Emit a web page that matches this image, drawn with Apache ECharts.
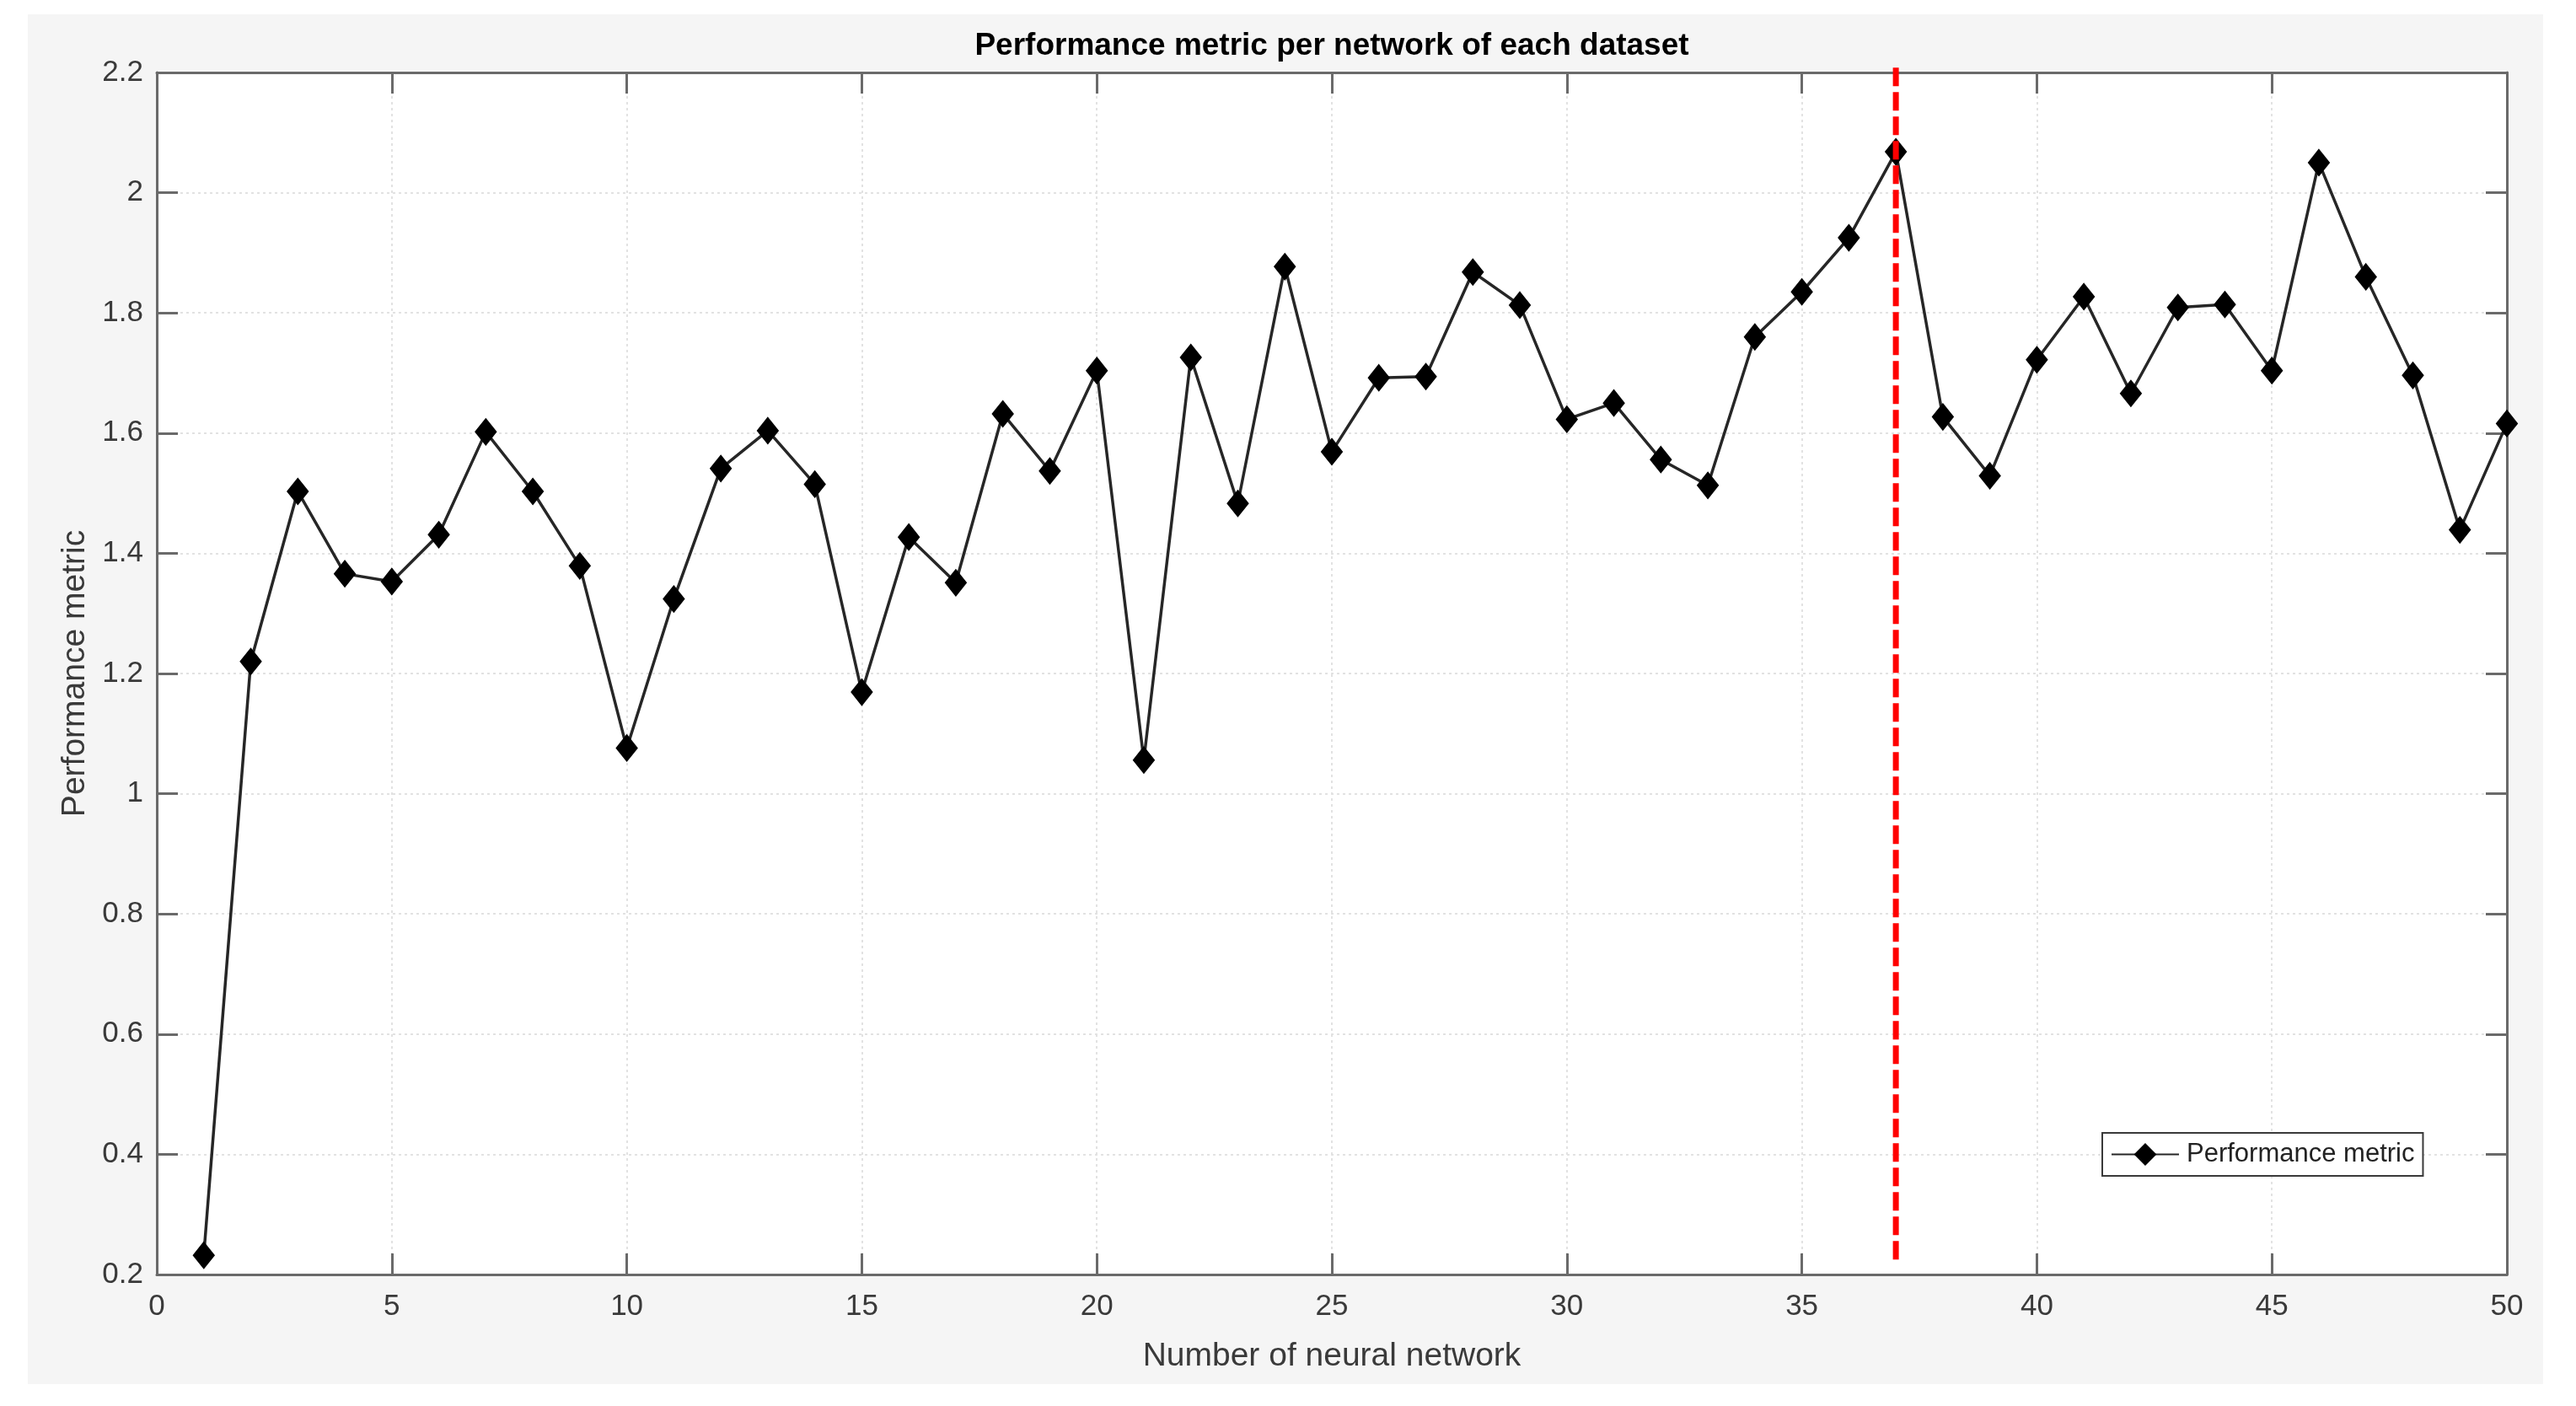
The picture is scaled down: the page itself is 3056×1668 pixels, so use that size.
<!DOCTYPE html>
<html>
<head>
<meta charset="utf-8">
<script src="https://cdn.jsdelivr.net/npm/echarts@6/dist/echarts.min.js"></script>
<style>
html,body{margin:0;padding:0;background:#ffffff;}
#chart{width:3056px;height:1668px;}
</style>
</head>
<body>
<div id="chart"></div>
<script>
// ---- data ----
const networkIds = [1,2,3,4,5,6,7,8,9,10,11,12,13,14,15,16,17,18,19,20,21,22,23,24,25,26,27,28,29,30,31,32,33,34,35,36,37,38,39,40,41,42,43,44,45,46,47,48,49,50];
const performanceValues = [0.232,1.220,1.503,1.366,1.353,1.431,1.602,1.503,1.379,1.076,1.324,1.541,1.604,1.515,1.169,1.427,1.351,1.632,1.537,1.704,1.056,1.726,1.483,1.877,1.569,1.692,1.694,1.868,1.813,1.623,1.650,1.556,1.513,1.760,1.835,1.925,2.068,1.627,1.529,1.722,1.827,1.666,1.809,1.814,1.704,2.050,1.860,1.696,1.439,1.616];
const selectedNetwork = 37;
const selectedLineRange = [2.208, 0.217];
const xTicks = [0,5,10,15,20,25,30,35,40,45,50];
const yTicks = [0.2,0.4,0.6,0.8,1,1.2,1.4,1.6,1.8,2,2.2];
const seriesName = 'Performance metric';
const chartTitle = 'Performance metric per network of each dataset';
const xAxisTitle = 'Number of neural network';
const yAxisTitle = 'Performance metric';

const seriesData = networkIds.map((id, i) => [id, performanceValues[i]]);
const selectedLineData = selectedLineRange.map(v => [selectedNetwork, v]);

const FONT = '"Liberation Sans", Arial, Helvetica, sans-serif';
const AXIS_COLOR = '#6a6a6a';
const TEXT_COLOR = '#3a3a3a';
const GRID_COLOR = '#e2e2e2';

const chart = echarts.init(document.getElementById('chart'), null, {renderer: 'canvas'});

const baseAxisLine = {show: true, onZero: false, lineStyle: {color: AXIS_COLOR, width: 3}};
const baseTick = {show: true, inside: true, length: 25, lineStyle: {color: AXIS_COLOR, width: 3}};

const option = {
  backgroundColor: '#ffffff',
  animation: false,
  graphic: [{
    type: 'rect', z: -10, silent: true,
    shape: {x: 33, y: 17, width: 2984, height: 1625},
    style: {fill: '#f5f5f5'}
  }, {
    type: 'rect', z: -9, silent: true,
    shape: {x: 186, y: 86, width: 2788, height: 1426},
    style: {fill: '#ffffff'}
  }],
  title: {
    text: chartTitle,
    left: 1580,
    top: 36,
    padding: 0,
    textAlign: 'center',
    textStyle: {fontFamily: FONT, fontSize: 37, fontWeight: 'bold', color: '#000000'}
  },
  grid: {left: 186, top: 86, width: 2788, height: 1426, containLabel: false},
  legend: {
    data: [seriesName],
    left: 2494,
    top: 1344,
    orient: 'horizontal',
    padding: [10, 10, 10, 10],
    itemWidth: 80,
    itemHeight: 30,
    backgroundColor: '#ffffff',
    borderColor: '#3a3a3a',
    borderWidth: 2,
    borderRadius: 0,
    textStyle: {fontFamily: FONT, fontSize: 31, color: '#222222', padding: [0, 0, 0, 4]}
  },
  xAxis: [{
    type: 'value', position: 'bottom',
    min: xTicks[0], max: xTicks[xTicks.length - 1], interval: 5,
    axisLine: baseAxisLine,
    axisTick: baseTick,
    axisLabel: {color: TEXT_COLOR, fontFamily: FONT, fontSize: 35, margin: 21, showMinLabel: true, showMaxLabel: true},
    splitLine: {show: true, lineStyle: {color: GRID_COLOR, width: 2, type: [3, 4]}},
    name: xAxisTitle,
    nameLocation: 'middle',
    nameGap: 78,
    nameTextStyle: {fontFamily: FONT, fontSize: 39, color: TEXT_COLOR}
  }, {
    type: 'value', position: 'top',
    min: xTicks[0], max: xTicks[xTicks.length - 1], interval: 5,
    axisLine: baseAxisLine,
    axisTick: baseTick,
    axisLabel: {show: false},
    splitLine: {show: false}
  }],
  yAxis: [{
    type: 'value', position: 'left',
    min: yTicks[0], max: yTicks[yTicks.length - 1], interval: 0.2,
    axisLine: baseAxisLine,
    axisTick: baseTick,
    axisLabel: {color: TEXT_COLOR, fontFamily: FONT, fontSize: 35, margin: 16,
      formatter: v => String(Math.round(v * 10) / 10)},
    splitLine: {show: true, lineStyle: {color: GRID_COLOR, width: 2, type: [3, 4]}},
    name: yAxisTitle,
    nameLocation: 'middle',
    nameGap: 77,
    nameTextStyle: {fontFamily: FONT, fontSize: 39, color: TEXT_COLOR}
  }, {
    type: 'value', position: 'right',
    min: yTicks[0], max: yTicks[yTicks.length - 1], interval: 0.2,
    axisLine: baseAxisLine,
    axisTick: baseTick,
    axisLabel: {show: false},
    splitLine: {show: false}
  }],
  series: [{
    name: seriesName,
    type: 'line',
    xAxisIndex: 0,
    yAxisIndex: 0,
    data: seriesData,
    symbol: 'diamond',
    symbolSize: [24, 30],
    showAllSymbol: true,
    clip: false,
    lineStyle: {color: '#262626', width: 3.5},
    itemStyle: {color: '#000000', borderColor: '#000000', borderWidth: 2},
    z: 5
  }, {
    name: 'Selected network',
    type: 'line',
    xAxisIndex: 0,
    yAxisIndex: 0,
    data: selectedLineData,
    symbol: 'none',
    clip: false,
    silent: true,
    lineStyle: {color: '#ff0000', width: 7, type: [22, 7], cap: 'butt'},
    z: 10
  }]
};
chart.setOption(option);
</script>
</body>
</html>
